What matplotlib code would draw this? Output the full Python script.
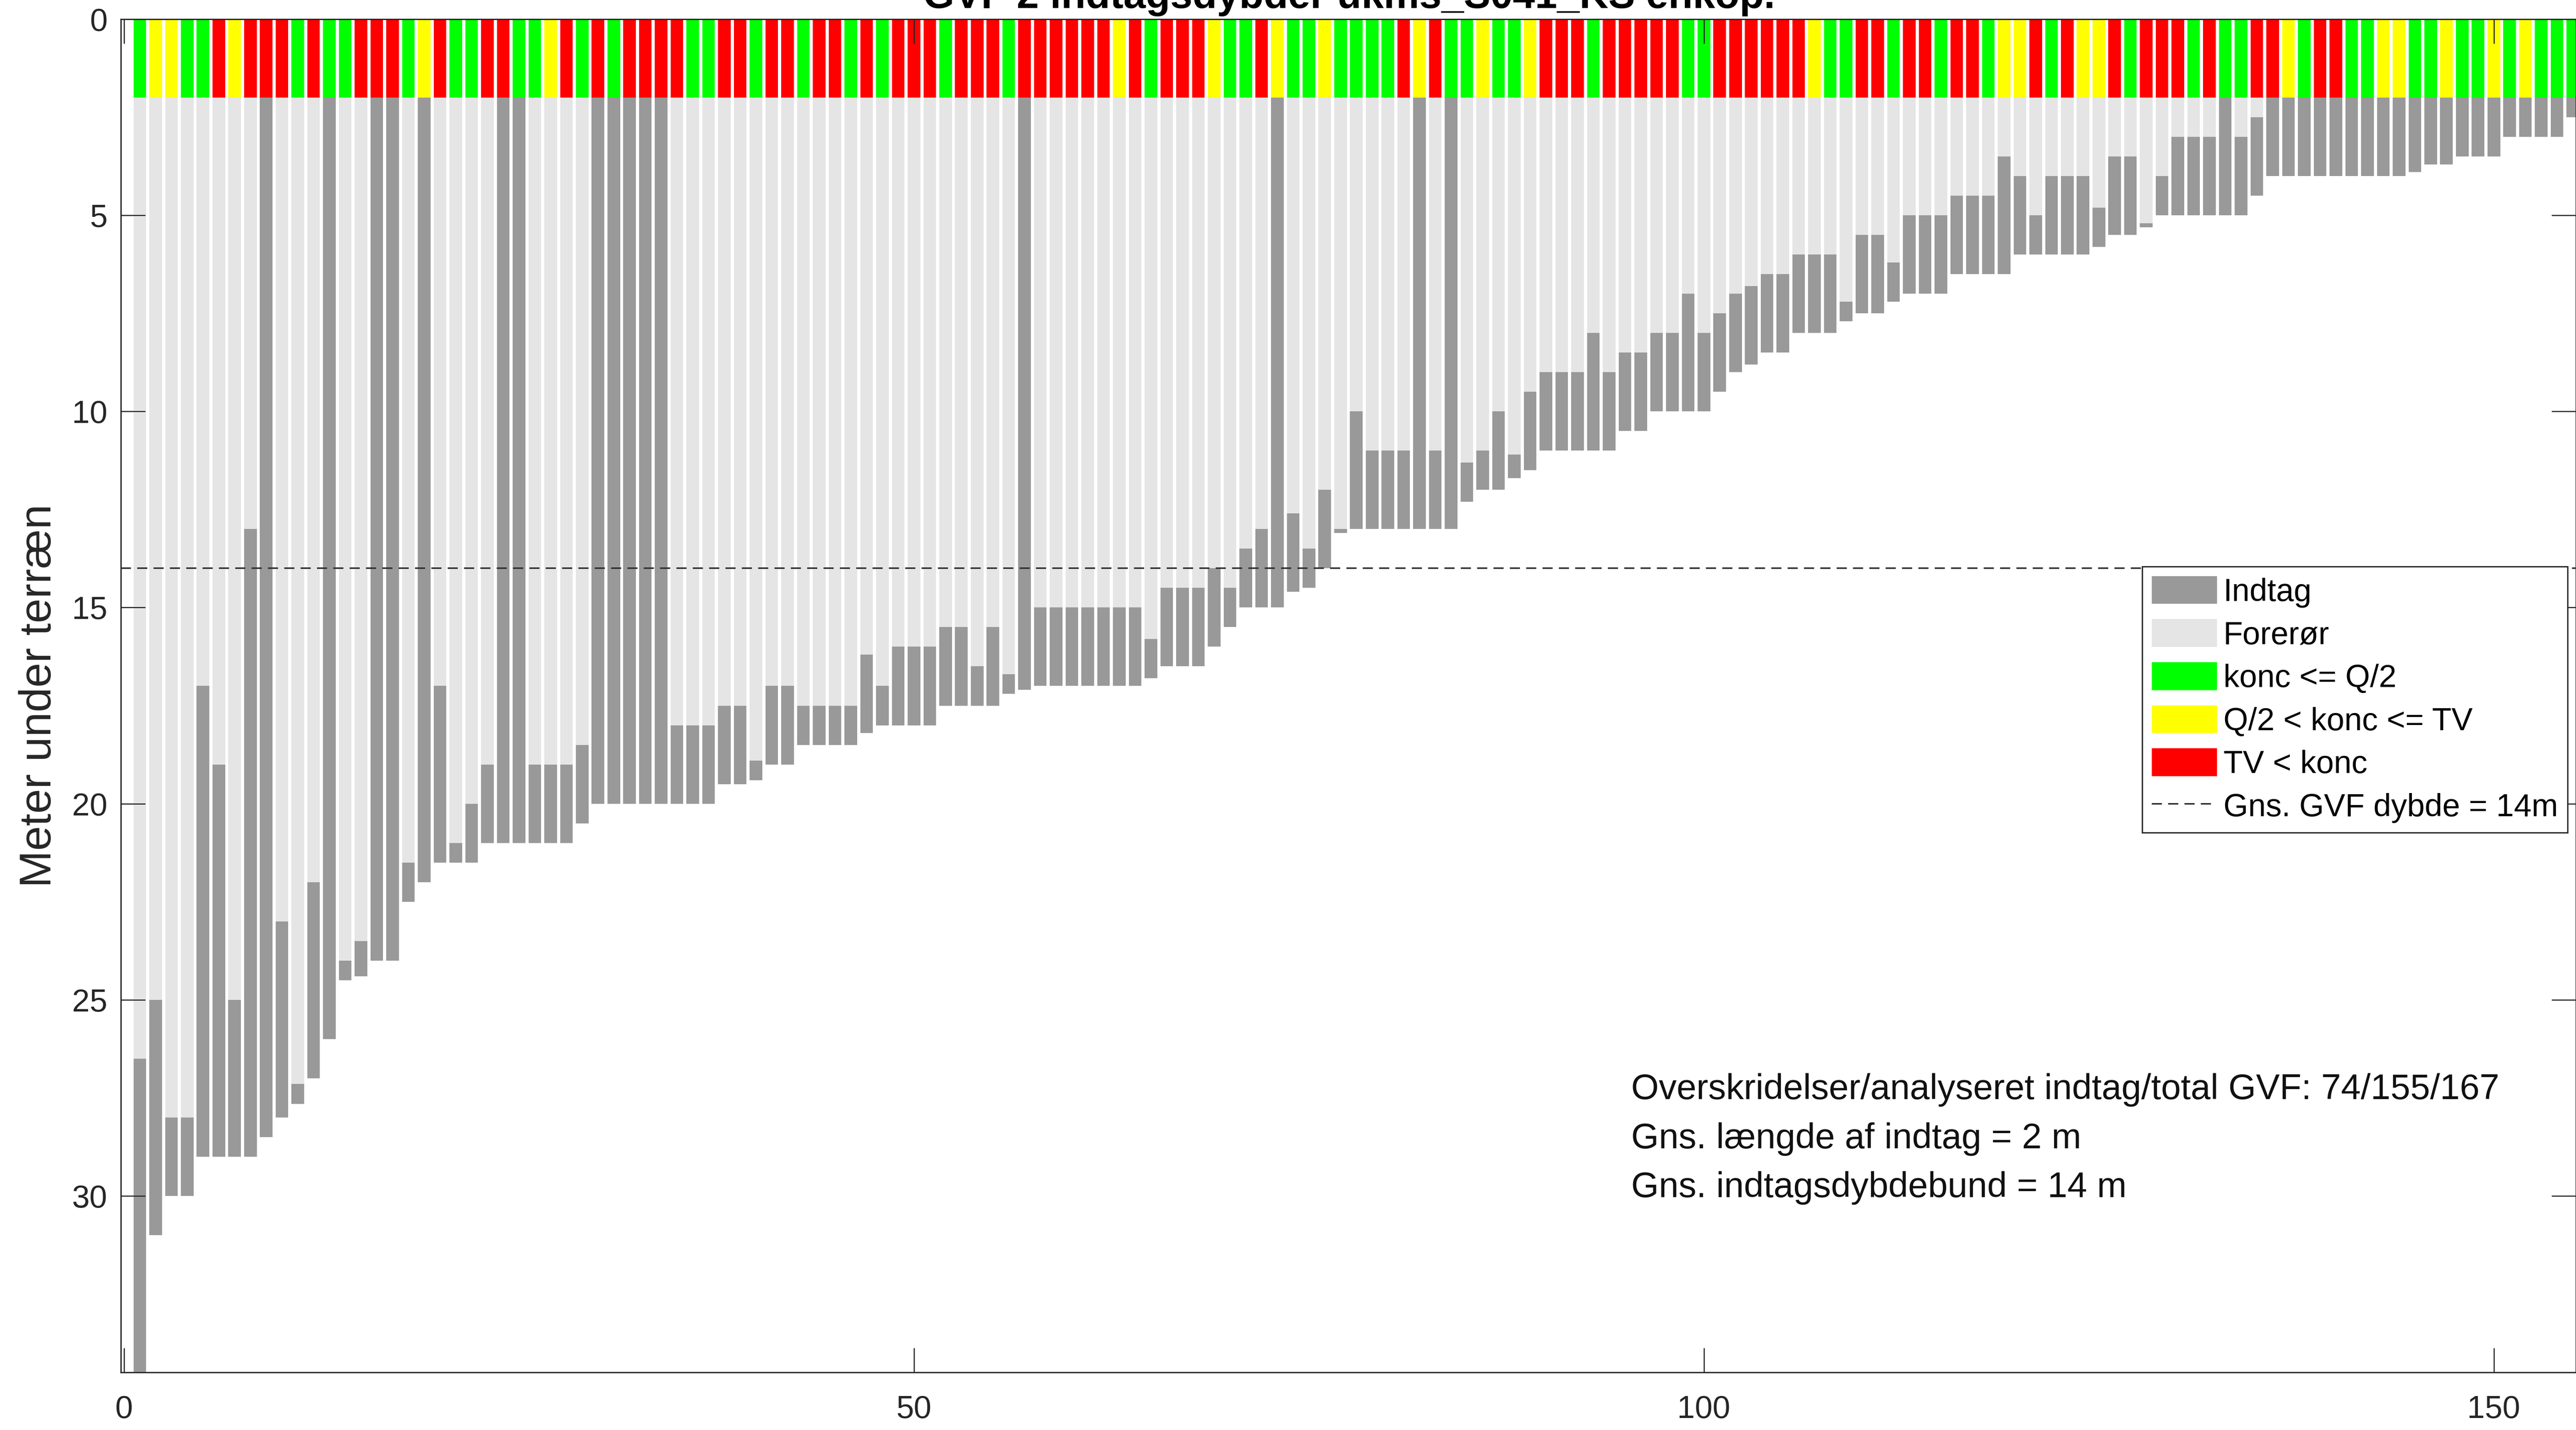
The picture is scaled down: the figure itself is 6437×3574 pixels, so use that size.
import matplotlib
matplotlib.use("Agg")
import matplotlib.pyplot as plt
from matplotlib.patches import Patch
from matplotlib.lines import Line2D
import numpy as np

plt.rcParams['font.family'] = ['Liberation Sans', 'DejaVu Sans']

# GVF-indtag, sorteret efter dybde af indtagsbund
boring = np.arange(1, 156)

# top og bund af indtag (m u.t.)
indtag_top = [26.5, 25, 28, 28, 17, 19, 25, 13, 2, 23,
              27.15, 22, 2, 24, 23.5, 2, 2, 21.5, 2, 17,
              21, 20, 19, 2, 2, 19, 19, 19, 18.5, 2,
              2, 2, 2, 2, 18, 18, 18, 17.5, 17.5, 18.9,
              17, 17, 17.5, 17.5, 17.5, 17.5, 16.2, 17, 16, 16,
              16, 15.5, 15.5, 16.5, 15.5, 16.7, 2, 15, 15, 15,
              15, 15, 15, 15, 15.8, 14.5, 14.5, 14.5, 14, 14.5,
              13.5, 13, 2, 12.6, 13.5, 12, 13, 10, 11, 11,
              11, 2, 11, 2, 11.3, 11, 10, 11.1, 9.5, 9,
              9, 9, 8, 9, 8.5, 8.5, 8, 8, 7, 8,
              7.5, 7, 6.8, 6.5, 6.5, 6, 6, 6, 7.2, 5.5,
              5.5, 6.2, 5, 5, 5, 4.5, 4.5, 4.5, 3.5, 4,
              5, 4, 4, 4, 4.8, 3.5, 3.5, 5.2, 4, 3,
              3, 3, 2, 3, 2.5, 2, 2, 2, 2, 2,
              2, 2, 2, 2, 2, 2, 2, 2, 2, 2,
              2, 2, 2, 2, 2]
indtag_bund = [35, 31, 30, 30, 29, 29, 29, 29, 28.5, 28,
               27.65, 27, 26, 24.5, 24.4, 24, 24, 22.5, 22, 21.5,
               21.5, 21.5, 21, 21, 21, 21, 21, 21, 20.5, 20,
               20, 20, 20, 20, 20, 20, 20, 19.5, 19.5, 19.4,
               19, 19, 18.5, 18.5, 18.5, 18.5, 18.2, 18, 18, 18,
               18, 17.5, 17.5, 17.5, 17.5, 17.2, 17.1, 17, 17, 17,
               17, 17, 17, 17, 16.8, 16.5, 16.5, 16.5, 16, 15.5,
               15, 15, 15, 14.6, 14.5, 14, 13.1, 13, 13, 13,
               13, 13, 13, 13, 12.3, 12, 12, 11.7, 11.5, 11,
               11, 11, 11, 11, 10.5, 10.5, 10, 10, 10, 10,
               9.5, 9, 8.8, 8.5, 8.5, 8, 8, 8, 7.7, 7.5,
               7.5, 7.2, 7, 7, 7, 6.5, 6.5, 6.5, 6.5, 6,
               6, 6, 6, 6, 5.8, 5.5, 5.5, 5.3, 5, 5,
               5, 5, 5, 5, 4.5, 4, 4, 4, 4, 4,
               4, 4, 4, 4, 3.9, 3.7, 3.7, 3.5, 3.5, 3.5,
               3, 3, 3, 3, 2.5]

# g: konc <= Q/2, y: Q/2 < konc <= TV, r: TV < konc
klasse = list("gyyggryrrrgrggrrrgyr"
              "ggrrggyrgrgrrrrggrrg"
              "rrgrrgrgrrrgrrrgrrrr"
              "rryrgrrryggryggygggg"
              "ryrggyggyrrrgrrrrrgg"
              "rrrrrryggrrgrrgrrgyy"
              "rgryyrgrrrgrggrrygrr"
              "ggyyggyggygyggg")

farvetop = 2.0
gns_dybde = 14
gns_laengde = 2
gns_bund = 14
total_gvf = 167

farver = {'g': '#00ff00', 'y': '#ffff00', 'r': '#ff0000'}
c_indtag = '#999999'
c_forer = '#e5e5e5'

top = np.array(indtag_top)
bund = np.array(indtag_bund)

fig = plt.figure(figsize=(6437 / 400, 3574 / 400), dpi=400)
ax = fig.add_axes([302 / 6437, 144 / 3574, 1 - 302 / 6437, 3382 / 3574])

ax.bar(boring, top - farvetop, bottom=farvetop, width=0.8, color=c_forer, linewidth=0)
ax.bar(boring, bund - top, bottom=top, width=0.8, color=c_indtag, linewidth=0)
ax.bar(boring, np.full(len(boring), farvetop), bottom=0, width=0.8,
       color=[farver[k] for k in klasse], linewidth=0)

ax.axhline(gns_dybde, color='#333333', linewidth=0.7, dashes=(6.5, 4), zorder=3)

ax.set_xlim(-0.2, 155.2)
ax.set_ylim(34.5, 0)
ax.set_xticks([0, 50, 100, 150])
ax.set_yticks([0, 5, 10, 15, 20, 25, 30])
ax.tick_params(direction='in', length=11, width=0.5, color='#262626',
               top=True, right=True, labelsize=14.3, labelcolor='#262626')
ax.tick_params(axis='x', pad=10)
ax.tick_params(axis='y', pad=6)
for s in ax.spines.values():
    s.set_linewidth(0.6)
    s.set_color('#262626')

ax.set_ylabel('Meter under terræn', fontsize=20, color='#262626')
ax.yaxis.set_label_coords(-0.0247, 0.5)

n_over = klasse.count('r')
linjer = ['Overskridelser/analyseret indtag/total GVF: %d/%d/%d' % (n_over, len(boring), total_gvf),
          'Gns. længde af indtag = %d m' % gns_laengde,
          'Gns. indtagsdybdebund = %d m' % gns_bund]
for i, t in enumerate(linjer):
    ax.text(95.4, 27.3 + 1.25 * i, t, fontsize=16, va='center', ha='left', color='#111111')

handles = [Patch(facecolor=c_indtag, edgecolor='none'),
           Patch(facecolor=c_forer, edgecolor='none'),
           Patch(facecolor=farver['g'], edgecolor='none'),
           Patch(facecolor=farver['y'], edgecolor='none'),
           Patch(facecolor=farver['r'], edgecolor='none'),
           Line2D([0], [0], color='#333333', linewidth=0.7, dashes=(6.5, 4))]
labels = ['Indtag', 'Forerør', 'konc <= Q/2', 'Q/2 < konc <= TV', 'TV < konc',
          'Gns. GVF dybde = %dm' % gns_dybde]
leg = ax.legend(handles, labels, loc='upper right', bbox_to_anchor=(0.9965, 0.5955),
                borderaxespad=0, fontsize=14.3, frameon=True, fancybox=False,
                framealpha=1, edgecolor='#262626', handlelength=2.05,
                handleheight=0.97, handletextpad=0.2, labelspacing=0.36,
                borderpad=0.3)
leg.get_frame().set_linewidth(0.6)

fig.text(0.5237, 1 - 20 / 3574, 'GVF 2 indtagsdybder ukms_S041_KS enkop.',
         ha='center', va='baseline', fontsize=18, fontweight='bold')

fig.savefig('out.png', dpi=400)
